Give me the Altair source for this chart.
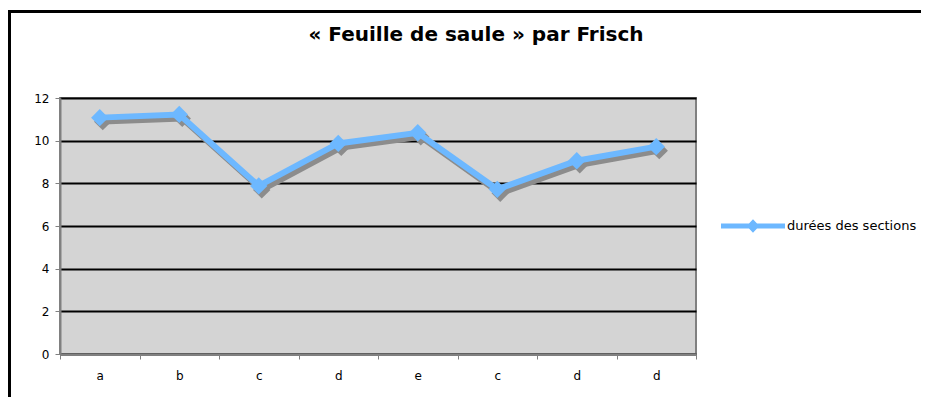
import altair as alt
import pandas as pd

categories = ["a", "b", "c", "d", "e", "c", "d", "d"]
values = [11.08, 11.23, 7.88, 9.87, 10.37, 7.72, 9.06, 9.72]
series_name = "durées des sections"
title_text = "« Feuille de saule » par Frisch"

df = pd.DataFrame({
    "pos": [str(i) for i in range(len(categories))],
    "cat": categories,
    "val": values,
    "serie": [series_name] * len(categories),
})

label_expr = "[" + ",".join("'%s'" % c for c in categories) + "][toNumber(datum.value)]"

BLUE = "#6DB8FF"
SHADOW = "#8C8C8C"
FONT = "DejaVu Sans"

x_scale = alt.Scale(type="band", paddingInner=0, paddingOuter=0)
x_axis = alt.Axis(
    title=None, labelExpr=label_expr, labelAngle=0, tickBand="extent",
    tickSize=5, tickColor="#808080", domainColor="#808080", domainWidth=2,
    labelPadding=11, labelFontSize=12, labelFont=FONT, labelColor="black",
    grid=False,
)
y_enc = alt.Y(
    "val:Q",
    scale=alt.Scale(domain=[0, 12], nice=False),
    axis=alt.Axis(
        title=None, values=[0, 2, 4, 6, 8, 10, 12], grid=True, gridColor="black",
        gridWidth=2, tickSize=5, tickColor="#808080", domainColor="#808080",
        domainWidth=2, labelPadding=6, labelFontSize=12, labelFont=FONT,
        labelColor="black",
    ),
)

base = alt.Chart(df).encode(
    x=alt.X("pos:N", sort=None, scale=x_scale, axis=x_axis, bandPosition=0.5),
    y=y_enc,
)

shadow_line = base.mark_line(color=SHADOW, strokeWidth=6, xOffset=3, yOffset=4)
shadow_pts = base.mark_point(shape="diamond", filled=True, color=SHADOW, size=300,
                             opacity=1, xOffset=3, yOffset=4)
blue_line = base.mark_line(color=BLUE, strokeWidth=6)

legend_symbol = ("M-1,-0.08L1,-0.08L1,0.08L-1,0.08Z"
                 "M0,-0.21L0.2,0L0,0.21L-0.2,0Z")

blue_pts = base.mark_point(shape="diamond", filled=True, size=300, opacity=1).encode(
    color=alt.Color(
        "serie:N",
        scale=alt.Scale(range=[BLUE]),
        legend=alt.Legend(
            title=None, orient="none", legendX=661, legendY=96,
            symbolType=legend_symbol, symbolSize=4096, symbolFillColor=BLUE,
            symbolStrokeWidth=0, symbolOpacity=1, labelFontSize=13, labelFont=FONT,
            labelColor="black", labelOffset=2,
        ),
    )
)

frame = alt.Chart(pd.DataFrame({"k": [0]})).mark_rect(
    fill=None, stroke="black", strokeWidth=3
).encode(
    x=alt.value(-50.5), x2=alt.value(900), y=alt.value(-86.5), y2=alt.value(340)
)

chart = alt.layer(frame, shadow_line, shadow_pts, blue_line, blue_pts).properties(
    width=636,
    height=256,
    background="white",
    title=alt.TitleParams(
        text=title_text, font=FONT, fontSize=20, fontWeight="bold", color="black",
        anchor="middle", frame="group", dx=98, offset=-51, baseline="alphabetic",
    ),
    autosize=alt.AutoSizeParams(type="none"),
    padding={"left": 52, "top": 90, "right": 225, "bottom": 43},
).configure_view(
    fill="#D4D4D4", stroke="#808080", strokeWidth=2
)

chart.save("out.html", embed_options={"renderer": "svg", "actions": False})
